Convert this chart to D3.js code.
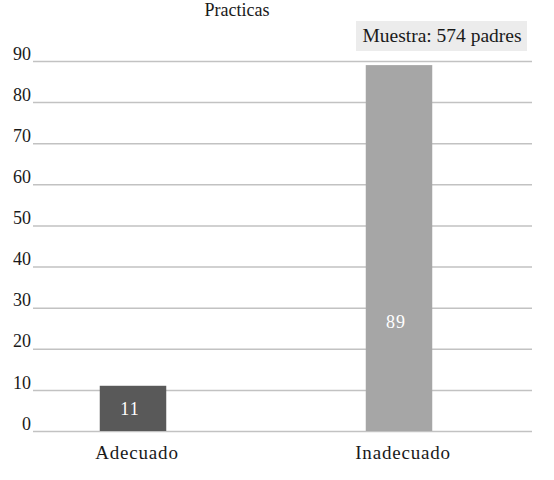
<!DOCTYPE html>
<html>
<head>
<meta charset="utf-8">
<script src="https://cdn.jsdelivr.net/npm/d3@7/dist/d3.min.js"></script>
<style>
  body { margin: 0; background: #fff; }
  .chart { width: 554px; height: 480px; }
  svg text { font-family: "Liberation Serif", "DejaVu Serif", serif !important; }
</style>
</head>
<body>
<div class="chart"></div>
<script>
(function() {
    'use strict';

    // DATA
    var categories = ['Adecuado', 'Inadecuado'];
    var values = [11, 89];
    var barColors = ['#595959', '#a6a6a6'];
    var yTicks = [0, 10, 20, 30, 40, 50, 60, 70, 80, 90];
    var title = 'Practicas';
    var sampleNote = 'Muestra: 574 padres';

    var SERIF = '"Liberation Serif", "DejaVu Serif", serif';

    // SVG
    var svg = d3.select('.chart').append('svg')
                .attr('width', 554)
                .attr('height', 480)
                .attr('font-family', SERIF);

    // SCALES
    var xScale = d3.scaleBand()
                    .domain(categories)
                    .range([0, 532])
                    .paddingInner(0.75)
                    .paddingOuter(0.375);

    var yScale = d3.scaleLinear()
                    .domain([0, 90])
                    .range([431, 61]);

    // GRIDLINES + Y LABELS (axis with long ticks)
    var yAxis = d3.axisLeft(yScale)
                    .tickValues(yTicks)
                    .tickSize(-499)
                    .tickPadding(2)
                    .tickFormat(d3.format('d'));

    var yAxisG = svg.append('g')
                    .attr('transform', 'translate(33,0)')
                    .call(yAxis)
                    .attr('font-family', SERIF)
                    .attr('font-size', 18);
    yAxisG.select('.domain').remove();
    yAxisG.selectAll('.tick line')
        .attr('stroke', '#c2c2c2')
        .attr('stroke-width', 1.5);
    yAxisG.selectAll('.tick text')
        .attr('dy', '-0.1em')
        .attr('fill', '#1a1a1a');

    // BARS
    svg.selectAll('.bar')
        .data(values)
        .enter()
        .append('rect')
        .attr('class', 'bar')
        .attr('x', function(d, i) { return xScale(categories[i]); })
        .attr('width', xScale.bandwidth())
        .attr('y', function(d) { return yScale(d); })
        .attr('height', function(d) { return yScale(0) - yScale(d); })
        .attr('fill', function(d, i) { return barColors[i]; });

    // VALUE LABELS (small bar centred, tall bar lower down)
    svg.selectAll('.val')
        .data(values)
        .enter()
        .append('text')
        .attr('class', 'val')
        .attr('x', function(d, i) { return xScale(categories[i]) + xScale.bandwidth() / 2 - 3; })
        .attr('y', function(d) {
            return d > 50 ? yScale(d * 0.3) : (yScale(0) + yScale(d)) / 2;
        })
        .attr('dy', '0.35em')
        .attr('text-anchor', 'middle')
        .attr('font-size', 18)
        .attr('letter-spacing', 1)
        .attr('fill', '#ffffff')
        .text(function(d) { return d; });

    // CATEGORY LABELS
    svg.selectAll('.cat')
        .data(categories)
        .enter()
        .append('text')
        .attr('class', 'cat')
        .attr('x', function(d) { return xScale(d) + xScale.bandwidth() / 2 + 4; })
        .attr('y', 459)
        .attr('text-anchor', 'middle')
        .attr('font-size', 19)
        .attr('letter-spacing', 0.8)
        .attr('fill', '#1a1a1a')
        .text(function(d) { return d; });

    // TITLE
    svg.append('text')
        .attr('x', 237)
        .attr('y', 16)
        .attr('text-anchor', 'middle')
        .attr('font-size', 18)
        .attr('fill', '#1a1a1a')
        .text(title);

    // SAMPLE NOTE BOX
    svg.append('rect')
        .attr('x', 356)
        .attr('y', 21)
        .attr('width', 171)
        .attr('height', 30)
        .attr('fill', '#ececec');
    svg.append('text')
        .attr('x', 442)
        .attr('y', 42)
        .attr('text-anchor', 'middle')
        .attr('font-size', 19.5)
        .attr('fill', '#1a1a1a')
        .text(sampleNote);
}());
</script>
</body>
</html>
